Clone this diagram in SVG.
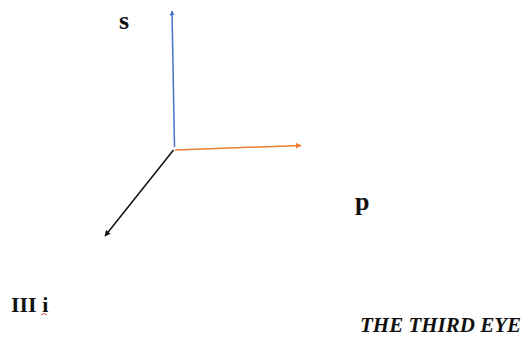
<svg xmlns="http://www.w3.org/2000/svg" width="523" height="337" viewBox="0 0 523 337">
  <style>
    .lbl { font-family: "Liberation Serif", "Times New Roman", serif; font-weight: bold; fill: #111; }
    .axis { fill: none; stroke-width: 1.5; }
  </style>
  <defs>
    <marker id="ahBlue" viewBox="0 0 10 10" refX="9" refY="5" markerWidth="5" markerHeight="5" orient="auto" markerUnits="userSpaceOnUse">
      <path d="M0,0 L10,5 L0,10 z" fill="#4472C4"/>
    </marker>
    <marker id="ahOrange" viewBox="0 0 10 10" refX="9" refY="5" markerWidth="6" markerHeight="6" orient="auto" markerUnits="userSpaceOnUse">
      <path d="M0,0 L10,5 L0,10 z" fill="#ED7D31"/>
    </marker>
    <marker id="ahBlack" viewBox="0 0 10 10" refX="9" refY="5" markerWidth="6" markerHeight="6" orient="auto" markerUnits="userSpaceOnUse">
      <path d="M0,0 L10,5 L0,10 z" fill="#111"/>
    </marker>
  </defs>
  <rect width="523" height="337" fill="#fff"/>
  <g id="connectors">
    <line class="axis" x1="174.5" y1="147" x2="172" y2="11" stroke="#4472C4" marker-end="url(#ahBlue)"/>
    <line class="axis" x1="175" y1="150" x2="301" y2="145.5" stroke="#ED7D31" marker-end="url(#ahOrange)"/>
    <line class="axis" x1="173.5" y1="150" x2="105" y2="236" stroke="#111" marker-end="url(#ahBlack)"/>
  </g>
  <g id="label-s"><text class="lbl" x="119" y="29" font-size="26">s</text></g>
  <g id="label-p"><text class="lbl" x="355" y="210" font-size="26">p</text></g>
  <g id="label-iii">
    <text class="lbl" x="11" y="312" font-size="22">III i</text>
    <path d="M41,314 q1,1.2 2,0 t2,0 t2,0" fill="none" stroke="#d33" stroke-width="0.8"/>
  </g>
  <g id="label-eye"><text class="lbl" x="521" y="331.5" font-size="21" font-style="italic" text-anchor="end">THE THIRD EYE</text></g>
</svg>
